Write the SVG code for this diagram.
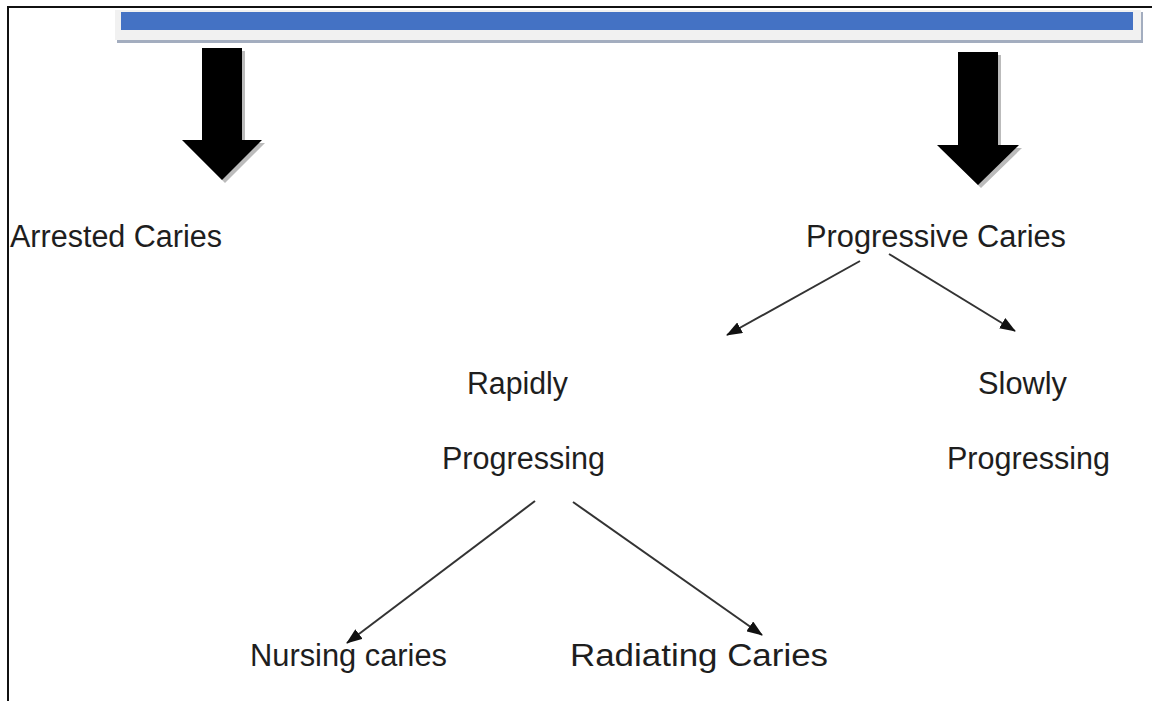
<svg xmlns="http://www.w3.org/2000/svg" width="1152" height="701" viewBox="0 0 1152 701">
  <defs>
    <style>
      .lbl { font-family: "Liberation Sans", Arial, sans-serif; font-size: 31px; fill: #1e1e1e; }
    </style>
    <marker id="ah2" viewBox="0 0 16 12" refX="15" refY="6" markerWidth="16" markerHeight="12" markerUnits="userSpaceOnUse" orient="auto">
      <path d="M0,0 L16,6 L0,12 Z" fill="#111"/>
    </marker>
  </defs>
  <rect width="1152" height="701" fill="#fff"/>

  <g id="frame">
    <line x1="7" y1="7" x2="1152" y2="7" stroke="#111" stroke-width="2"/>
    <line x1="8" y1="7" x2="8" y2="701" stroke="#111" stroke-width="2"/>
  </g>

  <g id="bar">
    <rect x="117" y="12" width="1026" height="31" fill="#a3adbf"/>
    <rect x="115" y="10" width="1026" height="30" fill="#f1f1f1"/>
    <rect x="121" y="12" width="1012" height="18" fill="#4472c4"/>
  </g>

  <g id="arrow-left">
    <path d="M205,51 L245,51 L245,143 L265,143 L225,183 L185,143 L205,143 Z" fill="#bbb"/>
    <path d="M202,48 L242,48 L242,140 L262,140 L222,180 L182,140 L202,140 Z" fill="#000"/>
  </g>

  <g id="arrow-right">
    <path d="M961,55 L1001,55 L1001,148 L1022,148 L981,188 L940,148 L961,148 Z" fill="#bbb"/>
    <path d="M958,52 L998,52 L998,145 L1019,145 L978,185 L937,145 L958,145 Z" fill="#000"/>
  </g>

  <g id="arrested">
    <text class="lbl" x="10" y="247" textLength="212" lengthAdjust="spacingAndGlyphs">Arrested Caries</text>
  </g>
  <g id="progressive">
    <text class="lbl" x="806" y="247" textLength="260" lengthAdjust="spacingAndGlyphs">Progressive Caries</text>
  </g>
  <g id="rapidly">
    <text class="lbl" x="467" y="394" textLength="101" lengthAdjust="spacingAndGlyphs">Rapidly</text>
    <text class="lbl" x="442" y="469" textLength="163" lengthAdjust="spacingAndGlyphs">Progressing</text>
  </g>
  <g id="slowly">
    <text class="lbl" x="978" y="394" textLength="89" lengthAdjust="spacingAndGlyphs">Slowly</text>
    <text class="lbl" x="947" y="469" textLength="163" lengthAdjust="spacingAndGlyphs">Progressing</text>
  </g>
  <g id="nursing">
    <text class="lbl" x="250" y="666" textLength="197" lengthAdjust="spacingAndGlyphs">Nursing caries</text>
  </g>
  <g id="radiating">
    <text class="lbl" x="570" y="666" textLength="258" lengthAdjust="spacingAndGlyphs">Radiating Caries</text>
  </g>

  <g id="connectors" stroke="#333" stroke-width="2" fill="none">
    <line x1="860" y1="261" x2="727" y2="335" marker-end="url(#ah2)"/>
    <line x1="889" y1="254" x2="1015" y2="331" marker-end="url(#ah2)"/>
    <line x1="535" y1="501" x2="347" y2="643" marker-end="url(#ah2)"/>
    <line x1="573" y1="502" x2="762" y2="635" marker-end="url(#ah2)"/>
  </g>
</svg>
